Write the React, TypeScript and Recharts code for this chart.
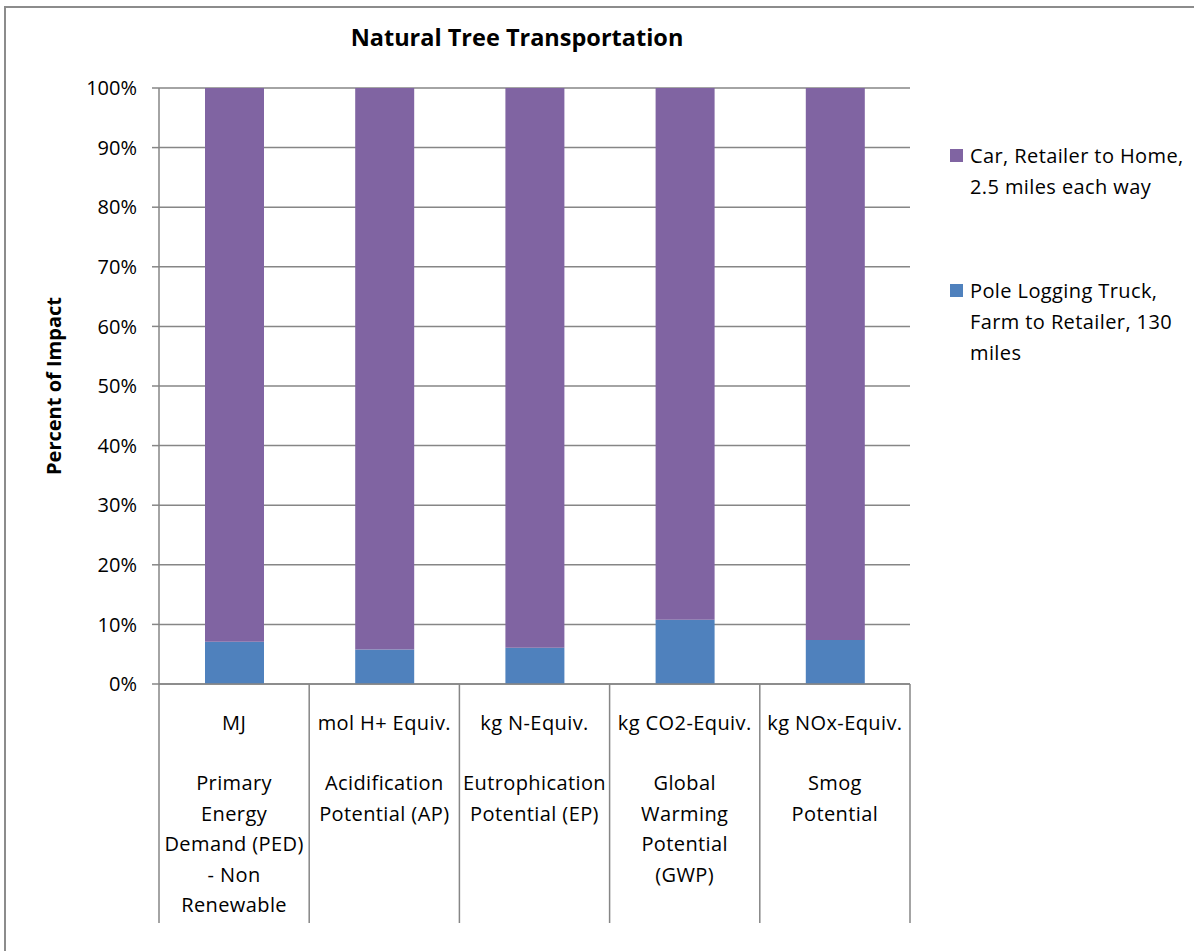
import { BarChart, Bar, XAxis, YAxis, CartesianGrid } from 'recharts';

// units row and category names (line breaks as in the original)
const units = ["MJ", "mol H+ Equiv.", "kg N-Equiv.", "kg CO2-Equiv.", "kg NOx-Equiv."];
const categoryLines = [
  ["Primary", "Energy", "Demand (PED)", "- Non", "Renewable"],
  ["Acidification", "Potential (AP)"],
  ["Eutrophication", "Potential (EP)"],
  ["Global", "Warming", "Potential", "(GWP)"],
  ["Smog", "Potential"],
];

// percent of impact
const truck = [7.1, 5.8, 6.1, 10.8, 7.4];
const car = [92.9, 94.2, 93.9, 89.2, 92.6];

const yTicks = [0, 10, 20, 30, 40, 50, 60, 70, 80, 90, 100];

const truckName = ["Pole Logging Truck,", "Farm to Retailer, 130", "miles"];
const carName = ["Car, Retailer to Home,", "2.5 miles each way"];

const data = units.map((u, i) => ({ unit: u, truck: truck[i], car: car[i] }));

const FONT = "'Open Sans', Lato, sans-serif";
const GRID = "#868686";
const FS = 20;
const LS = 0.4;

function CategoryTick(props: any) {
  const { x, y, payload } = props;
  const i = payload.index;
  const half = payload.offset || 75;
  const lines = categoryLines[i] || [];
  return (
    <g>
      <line x1={x - half} x2={x - half} y1={y} y2={y + 239} stroke={GRID} strokeWidth={1.5} />
      {i === units.length - 1 && (
        <line x1={x + half} x2={x + half} y1={y} y2={y + 239} stroke={GRID} strokeWidth={1.5} />
      )}
      <text x={x} y={y + 46} textAnchor="middle" fontSize={FS} letterSpacing={LS} fill="#000" fontFamily={FONT}>
        {units[i]}
      </text>
      <text textAnchor="middle" fontSize={FS} letterSpacing={LS} fill="#000" fontFamily={FONT}>
        {lines.map((l, k) => (
          <tspan key={k} x={x} y={y + 106 + k * 30.5}>{l}</tspan>
        ))}
      </text>
    </g>
  );
}

function LegendItem({ color, lines, top }: { color: string; lines: string[]; top: number }) {
  return (
    <div style={{ position: 'absolute', left: 950, top, display: 'flex', fontFamily: FONT, fontSize: FS, letterSpacing: LS, lineHeight: '31px' }}>
      <div style={{ width: 13, height: 13, background: color, marginTop: 9, marginRight: 7 }} />
      <div>
        {lines.map((l, k) => <div key={k} style={{ whiteSpace: 'nowrap' }}>{l}</div>)}
      </div>
    </div>
  );
}

export default function App() {
  return (
    <div style={{ position: 'absolute', left: 0, top: 0, width: 1194, height: 951, background: '#fff', overflow: 'hidden' }}>
      <div style={{ position: 'absolute', left: 4, top: 6, width: 1300, height: 1000, borderLeft: '2px solid #8c8c8c', borderTop: '2px solid #8c8c8c' }} />
      <div style={{ position: 'absolute', left: 117, width: 800, top: 21, textAlign: 'center', fontFamily: FONT, fontWeight: 'bold', fontSize: 23.5 }}>
        Natural Tree Transportation
      </div>
      <BarChart
        width={1194}
        height={951}
        data={data}
        margin={{ top: 88, right: 284, bottom: 27, left: 0 }}
        style={{ position: 'absolute', left: 0, top: 0 }}
      >
        <CartesianGrid vertical={false} stroke={GRID} strokeWidth={1.5} />
        <XAxis
          dataKey="unit"
          interval={0}
          height={240}
          tickSize={0}
          tickMargin={0}
          axisLine={{ stroke: GRID, strokeWidth: 1.5 }}
          tick={<CategoryTick />}
        />
        <YAxis
          width={159}
          domain={[0, 100]}
          ticks={yTicks}
          tickFormatter={(v: number) => `${v}%`}
          tickSize={7}
          tickMargin={15}
          axisLine={{ stroke: GRID, strokeWidth: 1.5 }}
          tickLine={{ stroke: GRID, strokeWidth: 1.5 }}
          tick={{ fill: '#000', fontSize: FS, fontFamily: FONT }}
          label={{
            content: (p: any) => {
              const vb = p.viewBox;
              const cx = vb.x + 53;
              const cy = vb.y + vb.height / 2;
              return (
                <text x={cx} y={cy} transform={`rotate(-90 ${cx} ${cy})`} textAnchor="middle" dominantBaseline="central" fontSize={20} fontWeight="bold" fontFamily={FONT} fill="#000">
                  Percent of Impact
                </text>
              );
            },
          }}
        />
        <Bar dataKey="truck" stackId="a" fill="#4F81BD" barSize={59} isAnimationActive={false} />
        <Bar dataKey="car" stackId="a" fill="#8064A2" barSize={59} isAnimationActive={false} />
      </BarChart>
      <LegendItem color="#8064A2" lines={carName} top={140} />
      <LegendItem color="#4F81BD" lines={truckName} top={275} />
    </div>
  );
}
